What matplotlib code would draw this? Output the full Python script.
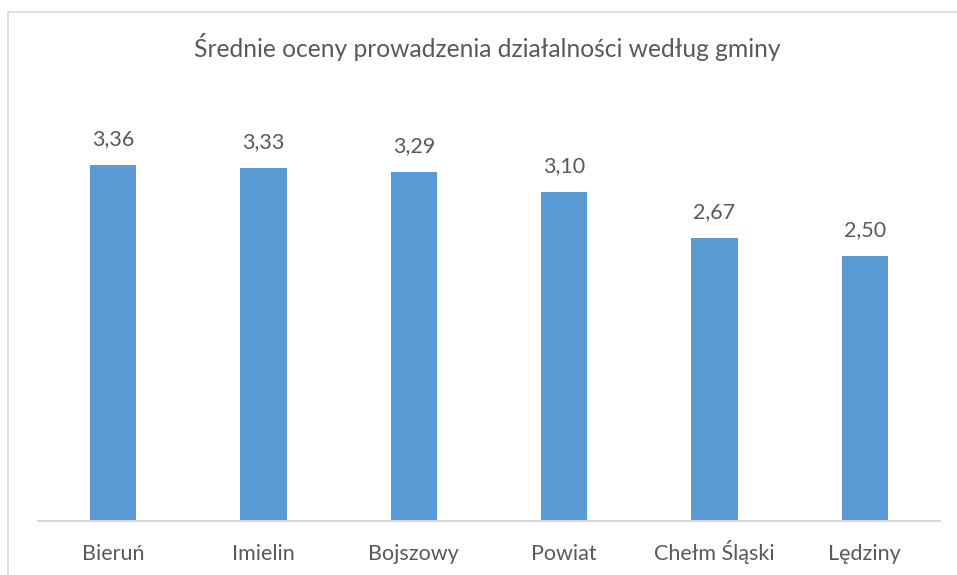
import matplotlib
matplotlib.use("Agg")
import matplotlib.pyplot as plt
from matplotlib.patches import Rectangle

categories = ["Bieruń", "Imielin", "Bojszowy", "Powiat", "Chełm Śląski", "Lędziny"]
values = [3.36, 3.33, 3.29, 3.10, 2.67, 2.50]
value_labels = ["3,36", "3,33", "3,29", "3,10", "2,67", "2,50"]
title = "Średnie oceny prowadzenia działalności według gminy"

plt.rcParams["font.family"] = ["Lato", "DejaVu Sans"]
text_color = "#595959"
bar_color = "#5B9BD5"
line_color = "#D9D9D9"

W, H = 957, 575
fig = plt.figure(figsize=(W / 100, H / 100), dpi=100)

# chart-area frame
fig.patches.append(Rectangle((8 / W, -0.1), 1.2, 1 - 11.5 / H + 0.1,
                             transform=fig.transFigure, fill=False,
                             edgecolor=line_color, linewidth=1.2))

ax = fig.add_axes([38 / W, 1 - 521 / H, (940 - 38) / W, 424 / H])
x = range(len(categories))
ax.bar(x, values, width=0.31, color=bar_color)
ax.set_xlim(-0.5, len(categories) - 0.5)
ax.set_ylim(0, 4)

for xi, v, lab in zip(x, values, value_labels):
    ax.annotate(lab, (xi, v), xytext=(0, 14.5), textcoords="offset points",
                ha="center", va="baseline", fontsize=15.5, color=text_color)

ax.set_xticks(list(x))
ax.set_xticklabels(categories, fontsize=15.5, color=text_color, va="baseline")
ax.tick_params(axis="x", length=0, pad=28)
ax.set_yticks([])
for side in ("top", "right", "left"):
    ax.spines[side].set_visible(False)
ax.spines["bottom"].set_color(line_color)
ax.spines["bottom"].set_linewidth(1.5)

fig.text(487 / W, 1 - 47 / H, title, ha="center", va="center",
         fontsize=17.7, color=text_color)

fig.savefig("out.png", dpi=100)
